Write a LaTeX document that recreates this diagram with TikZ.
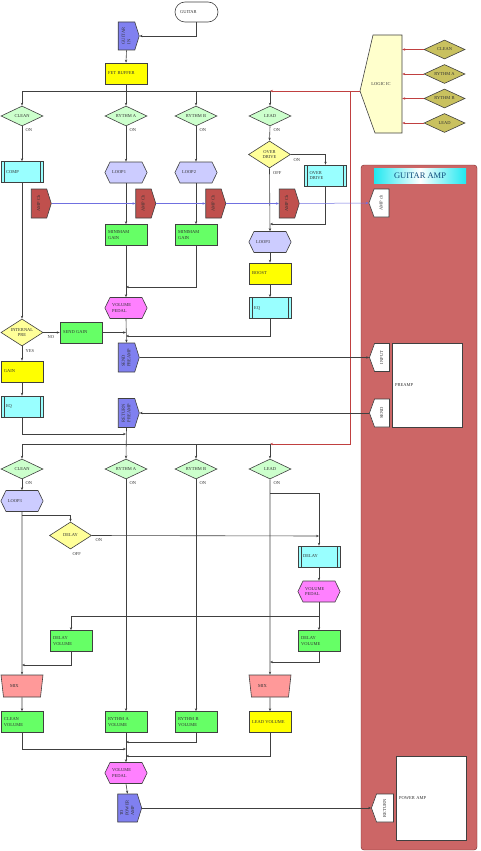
\documentclass[tikz,border=0pt]{standalone}
\usepackage{fontspec}
\setmainfont{Liberation Serif}
\usepackage{graphicx}
\usetikzlibrary{arrows.meta,positioning,shapes.geometric,shapes.symbols}

\definecolor{linegray}{HTML}{404040}
\definecolor{lightgreen}{HTML}{CCFFCC}
\definecolor{lavender}{HTML}{CCCCFF}
\definecolor{procyan}{HTML}{99FFFF}
\definecolor{boxyellow}{HTML}{FFFF00}
\definecolor{diayellow}{HTML}{FFFF99}
\definecolor{boxgreen}{HTML}{66FF66}
\definecolor{pedalpink}{HTML}{FF80FF}
\definecolor{sigblue}{HTML}{8080F0}
\definecolor{chred}{HTML}{C0504D}
\definecolor{mixpink}{HTML}{FF9999}
\definecolor{panelred}{HTML}{CC6666}
\definecolor{panelline}{HTML}{7A2A2A}
\definecolor{olive}{HTML}{C9C15F}
\definecolor{logicfill}{HTML}{FFFFCC}
\definecolor{redline}{HTML}{C04040}
\definecolor{blueline}{HTML}{7070E0}
\definecolor{titlecyan}{HTML}{20E8F0}
\definecolor{titleblue}{HTML}{0A4A7A}

\newcommand{\vtext}[1]{\rotatebox{90}{\begin{tabular}{@{}l@{}}#1\end{tabular}}}

\tikzset{
  every node/.style={font=\fontsize{4.5}{5.5}\selectfont, text=black!80},
  base/.style={draw=linegray, line width=0.6pt},
  box/.style={base, rectangle, minimum width=42pt, minimum height=21pt,
    text width=36pt, inner sep=3pt, align=left},
  procbox/.style={box, fill=procyan, text width=32pt, inner xsep=5pt,
    path picture={
      \draw[linegray, line width=0.6pt] ([xshift=3pt]path picture bounding box.north west) -- ([xshift=3pt]path picture bounding box.south west);
      \draw[linegray, line width=0.6pt] ([xshift=-3pt]path picture bounding box.north east) -- ([xshift=-3pt]path picture bounding box.south east);}},
  hexa/.style={base, signal, signal to=east and west, signal pointer angle=128,
    minimum width=42pt, minimum height=21pt, text width=28pt, inner sep=2pt, align=left},
  dia/.style={base, diamond, aspect=1.6, inner sep=0.5pt, minimum width=42pt,
    minimum height=20pt, align=center},
  sigout/.style={base, signal, signal to=east, signal pointer angle=145,
    minimum width=21pt, minimum height=28pt, inner sep=1pt},
  sigin/.style={base, fill=white, signal, signal to=west, signal pointer angle=140,
    minimum width=20pt, minimum height=28pt, inner sep=1pt},
  mixbox/.style={base, fill=mixpink, trapezium, trapezium angle=75,
    trapezium stretches=true, shape border rotate=180, minimum width=42pt,
    minimum height=22pt, text width=24pt, inner sep=2pt, align=left},
  lbl/.style={inner sep=0.5pt, anchor=north west},
  arr/.style={draw=linegray, line width=0.6pt, -{Stealth[length=3pt,width=2.4pt]}},
  redarr/.style={draw=redline, line width=0.6pt, -{Stealth[length=3pt,width=2.4pt]}},
  bluearr/.style={draw=blueline, line width=0.5pt, -{Stealth[length=3pt,width=2.4pt]}}
}

\begin{document}
\begin{tikzpicture}[x=1pt,y=-1pt]
\useasboundingbox (0,0) rectangle (480,851);

% guitar amp
\draw[draw=panelline, fill=panelred, rounded corners=3pt] (361,165) rectangle (477,850);
\node[left color=titlecyan, right color=titlecyan, middle color=white, minimum width=92pt,
  minimum height=15pt, inner sep=0pt, font=\fontsize{8.5}{9}\selectfont, text=titleblue] (ampname) at (420,175.5) {GUITAR AMP};
\node[base, fill=white, minimum width=70pt, minimum height=84pt, text width=64pt, inner sep=3pt, align=left] (pre) at (427,385) {PREAMP};
\node[sigin] (inp) at (382,357.5) {\vtext{INPUT}};
\node[sigin] (snd) at (382,413) {\vtext{SEND}};
\node[sigin] (ampch) at (381.5,203) {\vtext{AMP ch}};
\node[base, fill=white, minimum width=70pt, minimum height=84pt, text width=64pt, inner sep=3pt, align=left] (pwr) at (431,798) {POWER AMP};
\node[sigin, minimum width=22pt] (ret) at (385,808) {\vtext{RETURN}};

% logic
\draw[base, fill=logicfill] (373,35) -- (402,35) -- (402,133) -- (375,133) -- (360,91) -- cycle;
\node[minimum width=42pt, minimum height=98pt, inner sep=0pt] (logic) at (381,84) {LOGIC IC};
\coordinate (ltip) at (360,91);
\node[dia, fill=olive, minimum width=41pt, minimum height=19pt] (lgc) at (444.5,49.5) {CLEAN};
\node[dia, fill=olive, minimum width=41pt, minimum height=19pt] (lga) at (444.5,74) {RYTHM A};
\node[dia, fill=olive, minimum width=41pt, minimum height=19pt] (lgb) at (444.5,98.5) {RYTHM B};
\node[dia, fill=olive, minimum width=41pt, minimum height=19pt] (lgl) at (444.5,123) {LEAD};
\foreach \n in {lgc,lga,lgb,lgl}
  \draw[redarr] (\n.west) -- (\n.west -| logic.east);

% input
\node[base, rectangle, rounded corners=10pt, minimum width=43pt, minimum height=20pt,
  text width=33pt, inner sep=5pt, align=left] (guitar) at (196.5,12) {GUITAR};
\node[sigout, fill=sigblue] (gin) at (126.5,36) {\vtext{GUITAR\\IN}};
\node[box, fill=boxyellow] (fet) at (126,73.5) {FET BUFFER};
\coordinate (bus1) at (0,91);

\node[dia, fill=lightgreen] (cl1) at (22,116) {CLEAN};
\node[dia, fill=lightgreen] (ra1) at (126,116) {RYTHM A};
\node[dia, fill=lightgreen] (rb1) at (196,116) {RYTHM B};
\node[dia, fill=lightgreen] (ld1) at (270,116) {LEAD};
\foreach \n in {cl1,ra1,rb1,ld1}
  \node[lbl] at ([xshift=3pt,yshift=-2pt]\n.south) {ON};

\node[procbox] (comp) at (22,172) {COMP};
\node[hexa, fill=lavender] (loop1) at (126,172.5) {LOOP1};
\node[hexa, fill=lavender] (loop2) at (196,172.5) {LOOP2};
\node[dia, fill=diayellow, minimum height=27pt] (od) at (269.5,154.5) {OVER\\DRIVE};
\node[procbox] (odbox) at (325.5,175.5) {OVER\\DRIVE};
\node[lbl] at (293,158) {ON};
\node[lbl] at ([xshift=3pt,yshift=-3pt]od.south) {OFF};

\node[sigout, fill=chred, minimum width=20pt, minimum height=29pt] (ac1) at (39,203.5) {\vtext{AMP Ch}};
\node[sigout, fill=chred, minimum width=20pt, minimum height=29pt] (ac2) at (143.5,203.5) {\vtext{AMP Ch}};
\node[sigout, fill=chred, minimum width=20pt, minimum height=29pt] (ac3) at (213.5,203.5) {\vtext{AMP Ch}};
\node[sigout, fill=chred, minimum width=20pt, minimum height=29pt] (ac4) at (287,203.5) {\vtext{AMP Ch}};

\node[box, fill=boxgreen] (mg1) at (126,235) {MINIMAM\\GAIN};
\node[box, fill=boxgreen] (mg2) at (196,235) {MINIMAM\\GAIN};
\node[hexa, fill=lavender] (loop3) at (270,242) {LOOP3};
\node[box, fill=boxyellow] (boost) at (270,273.5) {BOOST};
\node[procbox] (eq1) at (270,308) {EQ};
\node[hexa, fill=pedalpink] (vp1) at (126,308) {VOLUME\\PEDAL};

\node[dia, fill=diayellow, minimum height=27pt] (ip) at (22,332.5) {INTERNAL\\PRE};
\node[box, fill=boxgreen] (sg) at (81,332.5) {SEND GAIN};
\node[lbl] at (47,335) {NO};
\node[lbl] at ([xshift=3pt,yshift=-3pt]ip.south) {YES};
\node[sigout, fill=sigblue, minimum height=29pt] (sp) at (126.5,357.5) {\vtext{SEND\\PREAMP}};
\node[box, fill=boxyellow] (gain) at (22,371.5) {GAIN};
\node[procbox] (eqc) at (22,406.5) {EQ};
\node[sigout, fill=sigblue, minimum height=29pt] (rp) at (126.5,413) {\vtext{RETURN\\PREAMP}};
\coordinate (bus2) at (0,444);

\node[dia, fill=lightgreen] (cl2) at (22,469) {CLEAN};
\node[dia, fill=lightgreen] (ra2) at (126,469) {RYTHM A};
\node[dia, fill=lightgreen] (rb2) at (196,469) {RYTHM B};
\node[dia, fill=lightgreen] (ld2) at (270,469) {LEAD};
\foreach \n in {cl2,ra2,rb2,ld2}
  \node[lbl] at ([xshift=3pt,yshift=-2pt]\n.south) {ON};

\node[hexa, fill=lavender] (loop4) at (22,501) {LOOP3};
\node[dia, fill=diayellow, minimum height=27pt] (dl) at (70.5,535.5) {DELAY};
\node[lbl] at (95,538) {ON};
\node[lbl] at (72,552) {OFF};
\node[procbox] (dly) at (319,556.5) {DELAY};
\node[hexa, fill=pedalpink] (vp2) at (319,591.5) {VOLUME\\PEDAL};
\node[box, fill=boxgreen] (dv1) at (71,641) {DELAY\\VOLUME};
\node[box, fill=boxgreen] (dv2) at (319,641) {DELAY\\VOLUME};
\node[mixbox] (mix1) at (22,686) {MIX};
\node[mixbox] (mix2) at (270,686) {MIX};

\node[box, fill=boxgreen] (cv) at (22,722) {CLEAN\\VOLUME};
\node[box, fill=boxgreen] (rav) at (126,722) {RYTHM A\\VOLUME};
\node[box, fill=boxgreen] (rbv) at (196,722) {RYTHM B\\VOLUME};
\node[box, fill=boxyellow] (lv) at (270,722) {LEAD VOLUME};
\node[hexa, fill=pedalpink] (vp3) at (126,773) {VOLUME\\PEDAL};
\node[sigout, fill=sigblue, minimum width=24pt] (tpa) at (127.5,808) {\vtext{TO\\POWER\\AMP}};

% junctions
\coordinate (j1) at (126,287);
\coordinate (j2) at (126,336);
\coordinate (j3) at (126,332.5);
\coordinate (j4) at (126,434);
\coordinate (j5) at (22,515);
\coordinate (j6) at (319,536);
\coordinate (j7) at (270,493);
\coordinate (j8) at (319,616);
\coordinate (j9) at (22,665);
\coordinate (j10) at (270,662);
\coordinate (j11) at (126,749);
\coordinate (j12) at (126,742);
\coordinate (j13) at (126,756);
\coordinate (j14) at (270,224);
\coordinate (rtop) at (350,91);

% connectors
\draw[arr] (guitar.south) |- (gin.east);
\draw[arr] (gin.south) -- (fet.north);
\draw[base] (fet.south) -- (fet.south |- bus1);
\draw[base] (cl1.north |- bus1) -- (ld1.north |- bus1);
\foreach \n in {cl1,ra1,rb1,ld1}
  \draw[arr] (\n.north |- bus1) -- (\n.north);
\draw[redarr] (ltip) -- (ld1.north |- bus1);
\draw[redarr] (rtop) |- (ld2.north |- bus2);

\draw[arr] (cl1.south) -- (comp.north);
\draw[arr] (ra1.south) -- (loop1.north);
\draw[arr] (rb1.south) -- (loop2.north);
\draw[arr] (ld1.south) -- (od.north);
\draw[arr] (od.east) -| (odbox.north);
\draw[arr] (odbox.south) |- (j14);
\draw[arr] (od.south) -- (loop3.north);
\draw[arr] (loop1.south) -- (mg1.north);
\draw[arr] (loop2.south) -- (mg2.north);
\draw[arr] (mg1.south) -- (vp1.north);
\draw[arr] (mg2.south) |- (j1);
\draw[arr] (loop3.south) -- (boost.north);
\draw[arr] (boost.south) -- (eq1.north);
\draw[arr] (eq1.south) |- (j2);

\draw[bluearr] (ac1.east) -- (ac2.west);
\draw[bluearr] (ac2.east) -- (ac3.west);
\draw[bluearr] (ac3.east) -- (ac4.west);
\draw[bluearr] (ac4.east) -- (ampch.west);

\draw[arr] (comp.south) -- (ip.north);
\draw[arr] (ip.east) -- (sg.west);
\draw[arr] (sg.east) -- (j3);
\draw[arr] (vp1.south) -- (sp.north);
\draw[arr] (sp.east) -- (inp.west);
\draw[arr] (ip.south) -- (gain.north);
\draw[arr] (gain.south) -- (eqc.north);
\draw[arr] (eqc.south) |- (j4);
\draw[arr] (snd.west) -- (rp.east);
\draw[arr] (rp.south) -- (ra2.north);
\draw[base] (cl2.north |- bus2) -- (ld2.north |- bus2);
\foreach \n in {cl2,rb2,ld2}
  \draw[arr] (\n.north |- bus2) -- (\n.north);

\draw[arr] (cl2.south) -- (loop4.north);
\draw[arr] (loop4.south) -- (mix1.north);
\draw[arr] (j5) -| (dl.north);
\draw[arr] (dl.east) -- (j6);
\draw[arr] (ld2.south) -- (mix2.north);
\draw[arr] (j7) -| (dly.north);
\draw[arr] (dly.south) -- (vp2.north);
\draw[arr] (vp2.south) -- (dv2.north);
\draw[arr] (j8) -| (dv1.north);
\draw[arr] (dv1.south) |- (j9);
\draw[arr] (dv2.south) |- (j10);
\draw[arr] (mix1.south) -- (cv.north);
\draw[arr] (mix2.south) -- (lv.north);
\draw[arr] (ra2.south) -- (rav.north);
\draw[arr] (rb2.south) -- (rbv.north);

\draw[arr] (cv.south) |- (j11);
\draw[arr] (rbv.south) |- (j12);
\draw[arr] (lv.south) |- (j13);
\draw[arr] (rav.south) -- (vp3.north);
\draw[arr] (vp3.south) -- (tpa.north);
\draw[arr] (tpa.east) -- (ret.west);

\end{tikzpicture}
\end{document}
